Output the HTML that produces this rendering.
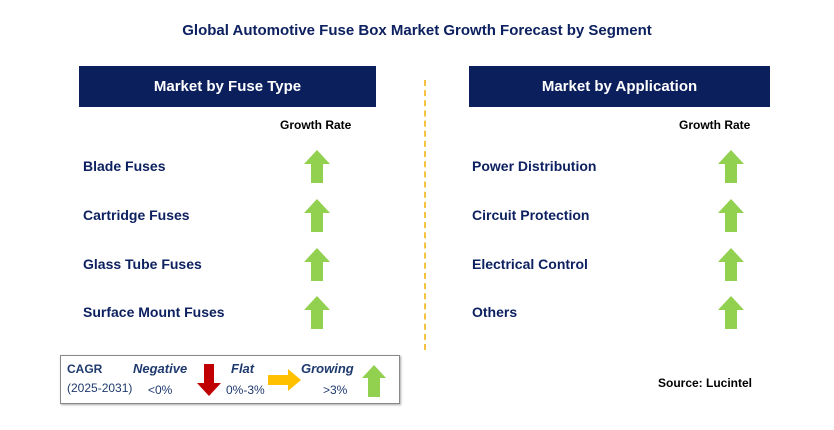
<!DOCTYPE html>
<html><head><meta charset="utf-8"><style>
body{margin:0;width:834px;height:430px;background:#fff;position:relative;overflow:hidden;font-family:"Liberation Sans",Arial,sans-serif}
.a{position:absolute}
.t{color:#0d2160;font-weight:bold;font-size:14px}
.hdr{background:#0b1f5c;color:#fff;font-weight:bold;font-size:15px;text-align:center;line-height:41px;height:41px}
.gr{font-size:12px;font-weight:bold;color:#000}
</style></head><body>
<div class="a t" style="left:0;width:834px;top:22px;text-align:center;font-size:15px">Global Automotive Fuse Box Market Growth Forecast by Segment</div>
<div class="a hdr" style="left:79px;top:66px;width:297px">Market by Fuse Type</div>
<div class="a hdr" style="left:469px;top:66px;width:301px">Market by Application</div>
<div class="a" style="left:424px;top:80px;height:270px;border-left:2px dashed #f5c242"></div>
<div class="a gr" style="left:280px;top:118px">Growth Rate</div>
<div class="a gr" style="left:679px;top:118px">Growth Rate</div>
<div id="rows"></div>
<div class="a" style="left:60px;top:355px;width:338px;height:47px;border:1px solid #888;box-shadow:1px 1px 2px #aaa"></div>
<div class="a" style="left:67px;top:362px;font-size:12px;font-weight:bold;color:#1f3a6e">CAGR</div>
<div class="a" style="left:67px;top:381px;font-size:12px;color:#1f3a6e">(2025-2031)</div>
<div class="a" style="left:133px;top:361px;font-size:13px;font-weight:bold;font-style:italic;color:#1f3a6e">Negative</div>
<div class="a" style="left:148px;top:383px;font-size:12px;color:#1f3a6e">&lt;0%</div>
<svg class="a" style="left:196px;top:364px" width="26" height="32"><polygon points="8,0 18,0 18,19 25,19 13,32 1,19 8,19" fill="#c00000"/></svg>
<div class="a" style="left:231px;top:361px;font-size:13px;font-weight:bold;font-style:italic;color:#1f3a6e">Flat</div>
<div class="a" style="left:226px;top:383px;font-size:12px;color:#1f3a6e">0%-3%</div>
<svg class="a" style="left:268px;top:369px" width="34" height="22"><polygon points="0,6 20,6 20,0 33,11 20,22 20,16 0,16" fill="#ffc000"/></svg>
<div class="a" style="left:301px;top:361px;font-size:13px;font-weight:bold;font-style:italic;color:#1f3a6e">Growing</div>
<div class="a" style="left:323px;top:383px;font-size:12px;color:#1f3a6e">&gt;3%</div>
<svg class="a" style="left:362px;top:365px" width="24" height="32"><polygon points="12,0 24,13 18,13 18,32 6,32 6,13 0,13" fill="#92d050"/></svg>
<div class="a" style="left:658px;top:376px;font-size:12px;font-weight:bold;color:#000">Source: Lucintel</div>
<script>
const leftItems=["Blade Fuses","Cartridge Fuses","Glass Tube Fuses","Surface Mount Fuses"];
const rightItems=["Power Distribution","Circuit Protection","Electrical Control","Others"];
const rowsEl=document.getElementById('rows');
const tops=[158,207,256,304];
function add(items,tx,ax,side){
 items.forEach((s,i)=>{
  const d=document.createElement('div');
  d.className='a t';d.style.left=tx+'px';d.style.top=tops[i]+'px';d.textContent=s;
  
  
  rowsEl.appendChild(d);
  const ns='http://www.w3.org/2000/svg';
  const sv=document.createElementNS(ns,'svg');
  sv.setAttribute('class','a');sv.setAttribute('width','26');sv.setAttribute('height','33');
  sv.style.left=ax+'px';sv.style.top=(tops[i]-8)+'px';
  
  
  const p=document.createElementNS(ns,'polygon');
  p.setAttribute('points','13,0 26,14 19,14 19,33 7,33 7,14 0,14');p.setAttribute('fill','#92d050');
  sv.appendChild(p);rowsEl.appendChild(sv);
 });
}
add(leftItems,83,304,'fuse-type');
add(rightItems,472,718,'application');
</script>
</body></html>
